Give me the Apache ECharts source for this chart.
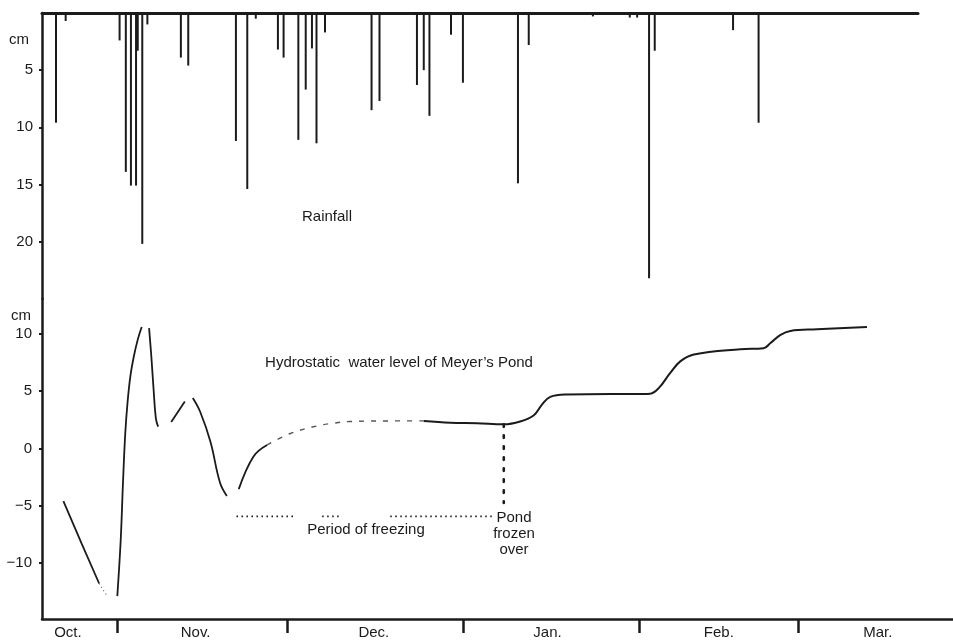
<!DOCTYPE html>
<html>
<head>
<meta charset="utf-8">
<title>Rainfall and water level of Meyer's Pond</title>
<script src="https://cdn.jsdelivr.net/npm/echarts@6/dist/echarts.min.js"></script>
<style>
  html, body { margin: 0; padding: 0; background: #ffffff; }
  #chart { width: 953px; height: 642px; }
</style>
</head>
<body>
<div id="chart"></div>
<script>
// Time axis: days counted from 1 October (1 Nov = day 31).
const monthStartDays = [31, 61, 92, 123, 151];
const monthLabelDays = [22.3, 44.8, 76.2, 106.8, 137, 165];
const monthNames = ['Oct.', 'Nov.', 'Dec.', 'Jan.', 'Feb.', 'Mar.'];

// Daily rainfall events (day, cm)
const rainDays = [20.2, 21.9, 31.4, 32.5, 33.4, 34.3, 34.6, 35.4, 36.3, 42.2, 43.5,
  51.9, 53.9, 55.4, 59.3, 60.3, 62.9, 64.2, 65.3, 66.1, 67.6, 75.8, 77.2,
  83.8, 85.0, 86.0, 89.8, 91.9, 101.6, 103.5, 114.8, 121.3, 122.6, 124.7,
  125.7, 139.5, 144.0];
const rainCm = [9.6, 0.7, 2.4, 13.9, 15.1, 15.1, 3.3, 20.2, 1.0, 3.9, 4.6,
  11.2, 15.4, 0.5, 3.2, 3.9, 11.1, 6.7, 3.1, 11.4, 1.7, 8.5, 7.7,
  6.3, 5.0, 9.0, 1.9, 6.1, 14.9, 2.8, 0.3, 0.4, 0.4, 23.2,
  3.3, 1.5, 9.6];

// Hydrostatic water level (day, cm), recorded in separate pieces
const levelFall = [[21.5, -4.6], [24.7, -8.3], [27.8, -11.8]];
const levelFallTail = [[27.8, -11.8], [29.2, -12.9]];
const levelRise = [[31.0, -12.9], [31.6, -8.0], [32.0, -3.0], [32.4, 1.3], [32.8, 4.0], [33.3, 6.3],
  [33.9, 8.0], [34.6, 9.5], [35.3, 10.6]];
const levelDrop = [[36.6, 10.5], [37.0, 8.0], [37.4, 5.1], [37.8, 2.6], [38.2, 1.9]];
const levelBump = [[40.5, 2.3], [42.9, 4.1]];
const levelDecline = [[44.3, 4.4], [45.6, 3.2], [47.4, 0.6], [49.1, -3.0], [50.3, -4.15]];
const levelRecover = [[52.4, -3.56], [55.0, -0.7], [57.4, 0.3]];
const levelFreezing = [[57.4, 0.3], [61.5, 1.3], [66.2, 1.96], [69.1, 2.2], [72.1, 2.35], [80.9, 2.4], [85.0, 2.4]];
const levelWinter = [[85.0, 2.4], [89.7, 2.25], [94.4, 2.2], [99.1, 2.1], [102.0, 2.35], [104.4, 2.9],
  [105.8, 3.8], [107.3, 4.5], [110.2, 4.7], [123.2, 4.76], [124.9, 4.78], [126.4, 5.26],
  [128.4, 6.57], [130.2, 7.6], [132.6, 8.2], [140.8, 8.66], [144.9, 8.75], [146.1, 9.2],
  [147.8, 9.9], [149.6, 10.26], [154.3, 10.4], [163.1, 10.6]];

// Period of freezing marker and the day the pond froze over
const freezeRuns = [[[52.0, -5.94], [62.5, -5.94]], [[67.1, -5.94], [70.3, -5.94]], [[79.1, -5.94], [97.4, -5.94]]];
const frozenOverDrop = [[99.1, 2.1], [99.1, -4.76]];

const ink = '#1b1b1b';
const fontFamily = '"Liberation Sans", Arial, Helvetica, sans-serif';
const xMin = 17.73;

const chart = echarts.init(document.getElementById('chart'), null, { renderer: 'canvas' });

function monthLabel(v) {
  const i = monthLabelDays.indexOf(v);
  return i >= 0 ? monthNames[i] : '';
}
function signed(v) {
  return v < 0 ? '\u2212' + (-v) : String(v);
}

const lineBase = { type: 'line', xAxisIndex: 1, yAxisIndex: 1, symbol: 'none', silent: true, smooth: 0.4 };

const series = [
  {
    type: 'bar', xAxisIndex: 0, yAxisIndex: 0, barWidth: 2, silent: true,
    itemStyle: { color: ink },
    data: rainDays.map((d, i) => [d, rainCm[i]])
  },
  Object.assign({}, lineBase, { data: levelFall, smooth: false, lineStyle: { color: ink, width: 1.8 } }),
  Object.assign({}, lineBase, { data: levelFallTail, smooth: false, lineStyle: { color: '#666', width: 1.2, type: [1, 3] } }),
  Object.assign({}, lineBase, { data: levelRise, lineStyle: { color: ink, width: 1.8 } }),
  Object.assign({}, lineBase, { data: levelDrop, lineStyle: { color: ink, width: 1.8 } }),
  Object.assign({}, lineBase, { data: levelBump, lineStyle: { color: ink, width: 1.8 } }),
  Object.assign({}, lineBase, { data: levelDecline, lineStyle: { color: ink, width: 1.8 } }),
  Object.assign({}, lineBase, { data: levelRecover, lineStyle: { color: ink, width: 1.8 } }),
  Object.assign({}, lineBase, { data: levelFreezing, lineStyle: { color: '#555', width: 1.4, type: [5, 7] } }),
  Object.assign({}, lineBase, { data: levelWinter, lineStyle: { color: ink, width: 2 } })
];
freezeRuns.forEach(run => {
  series.push(Object.assign({}, lineBase, { smooth: false, data: run,
    lineStyle: { color: ink, width: 1.6, type: [1.5, 3.5] } }));
});
series.push(Object.assign({}, lineBase, { smooth: false, data: frozenOverDrop,
  lineStyle: { color: ink, width: 2.6, type: [2.5, 8.5], cap: 'round' } }));

const textStyle = { fill: ink, font: '15px ' + fontFamily, align: 'center', verticalAlign: 'middle' };

chart.setOption({
  animation: false,
  backgroundColor: '#ffffff',
  textStyle: { fontFamily: fontFamily, color: ink },
  grid: [
    { left: 42, top: 13, width: 876, height: 285.75 },
    { left: 42, top: 298.75, width: 911, height: 320.25 }
  ],
  xAxis: [
    {
      type: 'value', gridIndex: 0, position: 'top', min: xMin, max: 172.09,
      axisLine: { show: true, onZero: false, lineStyle: { color: ink, width: 3 } },
      axisTick: { show: false }, axisLabel: { show: false }, splitLine: { show: false }
    },
    {
      type: 'value', gridIndex: 1, position: 'bottom', min: xMin, max: 178.26,
      axisLine: { show: true, onZero: false, lineStyle: { color: ink, width: 2.5 } },
      axisTick: { show: true, inside: false, length: 14, customValues: monthStartDays,
        lineStyle: { color: ink, width: 2.5 } },
      axisLabel: { show: true, customValues: monthLabelDays, formatter: monthLabel, margin: 6,
        fontSize: 15, color: ink, fontFamily: fontFamily },
      splitLine: { show: false }
    }
  ],
  yAxis: [
    {
      type: 'value', gridIndex: 0, inverse: true, min: 0, max: 25,
      axisLine: { show: true, onZero: false, lineStyle: { color: ink, width: 2.5 } },
      axisTick: { show: true, length: 3, customValues: [5, 10, 15, 20], lineStyle: { color: ink, width: 2 } },
      axisLabel: { show: true, customValues: [5, 10, 15, 20], margin: 9, fontSize: 15, color: ink,
        fontFamily: fontFamily },
      splitLine: { show: false }
    },
    {
      type: 'value', gridIndex: 1, min: -14.9, max: 13.07,
      axisLine: { show: true, onZero: false, lineStyle: { color: ink, width: 2.5 } },
      axisTick: { show: true, length: 3, customValues: [-10, -5, 0, 5, 10], lineStyle: { color: ink, width: 2 } },
      axisLabel: { show: true, customValues: [-10, -5, 0, 5, 10], formatter: signed, margin: 10, fontSize: 15,
        color: ink, fontFamily: fontFamily },
      splitLine: { show: false }
    }
  ],
  graphic: [
    { type: 'text', x: 19, y: 40, silent: true, style: Object.assign({}, textStyle, { text: 'cm' }) },
    { type: 'text', x: 21, y: 316, silent: true, style: Object.assign({}, textStyle, { text: 'cm' }) },
    { type: 'text', x: 327, y: 217, silent: true, style: Object.assign({}, textStyle, { text: 'Rainfall' }) },
    { type: 'text', x: 399, y: 363, silent: true,
      style: Object.assign({}, textStyle, { text: 'Hydrostatic  water level of Meyer\u2019s Pond' }) },
    { type: 'text', x: 366, y: 530, silent: true, style: Object.assign({}, textStyle, { text: 'Period of freezing' }) },
    { type: 'text', x: 514, y: 510, silent: true,
      style: Object.assign({}, textStyle, { text: 'Pond\nfrozen\nover', verticalAlign: 'top', lineHeight: 16 }) }
  ],
  series: series
});
</script>
</body>
</html>
